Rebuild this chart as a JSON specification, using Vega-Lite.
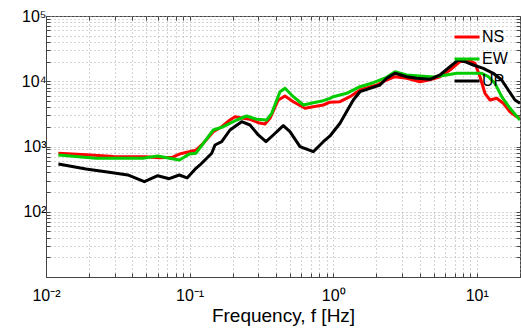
{
  "$schema": "https://vega.github.io/schema/vega-lite/v6.json",
  "width": 474,
  "height": 261,
  "autosize": "none",
  "padding": {"left": 46, "top": 16, "right": 1, "bottom": 53},
  "config": {
    "font": "Liberation Sans",
    "view": {"stroke": "#444", "strokeWidth": 1},
    "axis": {
      "domainColor": "#444",
      "tickColor": "#444",
      "labelColor": "#000",
      "labelFont": "Liberation Sans",
      "labelFontSize": 16,
      "labelOverlap": false,
      "labelFlush": false,
      "gridColor": "#a8a8a8",
      "gridDash": [1, 3],
      "gridOpacity": 1,
      "tickSize": -4
    }
  },
  "data": {
    "values": [
      {"f": 0.0122, "v": 787, "c": "NS"},
      {"f": 0.019, "v": 745, "c": "NS"},
      {"f": 0.0295, "v": 700, "c": "NS"},
      {"f": 0.0497, "v": 698, "c": "NS"},
      {"f": 0.0612, "v": 673, "c": "NS"},
      {"f": 0.0762, "v": 685, "c": "NS"},
      {"f": 0.0857, "v": 770, "c": "NS"},
      {"f": 0.0895, "v": 787, "c": "NS"},
      {"f": 0.1061, "v": 860, "c": "NS"},
      {"f": 0.1108, "v": 880, "c": "NS"},
      {"f": 0.1246, "v": 1119, "c": "NS"},
      {"f": 0.1462, "v": 1686, "c": "NS"},
      {"f": 0.1674, "v": 2011, "c": "NS"},
      {"f": 0.1911, "v": 2548, "c": "NS"},
      {"f": 0.2071, "v": 2862, "c": "NS"},
      {"f": 0.2366, "v": 2705, "c": "NS"},
      {"f": 0.2634, "v": 2612, "c": "NS"},
      {"f": 0.3009, "v": 2317, "c": "NS"},
      {"f": 0.335, "v": 2212, "c": "NS"},
      {"f": 0.363, "v": 2705, "c": "NS"},
      {"f": 0.4147, "v": 5160, "c": "NS"},
      {"f": 0.4616, "v": 5940, "c": "NS"},
      {"f": 0.5274, "v": 4861, "c": "NS"},
      {"f": 0.6363, "v": 3850, "c": "NS"},
      {"f": 0.7268, "v": 4074, "c": "NS"},
      {"f": 0.8533, "v": 4325, "c": "NS"},
      {"f": 0.95, "v": 4780, "c": "NS"},
      {"f": 1.1154, "v": 4861, "c": "NS"},
      {"f": 1.309, "v": 5798, "c": "NS"},
      {"f": 1.537, "v": 7340, "c": "NS"},
      {"f": 2.009, "v": 8760, "c": "NS"},
      {"f": 2.358, "v": 10450, "c": "NS"},
      {"f": 2.694, "v": 11740, "c": "NS"},
      {"f": 3.25, "v": 11100, "c": "NS"},
      {"f": 4.022, "v": 9840, "c": "NS"},
      {"f": 4.722, "v": 10500, "c": "NS"},
      {"f": 5.541, "v": 11740, "c": "NS"},
      {"f": 6.507, "v": 14870, "c": "NS"},
      {"f": 7.638, "v": 19940, "c": "NS"},
      {"f": 8.727, "v": 21170, "c": "NS"},
      {"f": 9.716, "v": 18840, "c": "NS"},
      {"f": 10.53, "v": 11740, "c": "NS"},
      {"f": 11.4, "v": 6537, "c": "NS"},
      {"f": 12.36, "v": 5160, "c": "NS"},
      {"f": 13.76, "v": 5480, "c": "NS"},
      {"f": 15.3, "v": 4593, "c": "NS"},
      {"f": 17.03, "v": 3414, "c": "NS"},
      {"f": 18.96, "v": 2862, "c": "NS"},
      {"f": 20, "v": 2705, "c": "NS"},

      {"f": 0.0122, "v": 741, "c": "EW"},
      {"f": 0.0223, "v": 660, "c": "EW"},
      {"f": 0.0471, "v": 660, "c": "EW"},
      {"f": 0.06, "v": 715, "c": "EW"},
      {"f": 0.0722, "v": 660, "c": "EW"},
      {"f": 0.085, "v": 620, "c": "EW"},
      {"f": 0.1, "v": 770, "c": "EW"},
      {"f": 0.1108, "v": 790, "c": "EW"},
      {"f": 0.1246, "v": 1119, "c": "EW"},
      {"f": 0.1462, "v": 1790, "c": "EW"},
      {"f": 0.1717, "v": 2011, "c": "EW"},
      {"f": 0.2128, "v": 2548, "c": "EW"},
      {"f": 0.2498, "v": 2934, "c": "EW"},
      {"f": 0.2933, "v": 2612, "c": "EW"},
      {"f": 0.3443, "v": 2548, "c": "EW"},
      {"f": 0.373, "v": 3228, "c": "EW"},
      {"f": 0.4261, "v": 6916, "c": "EW"},
      {"f": 0.4616, "v": 7798, "c": "EW"},
      {"f": 0.5274, "v": 5798, "c": "EW"},
      {"f": 0.6193, "v": 4325, "c": "EW"},
      {"f": 0.7268, "v": 4691, "c": "EW"},
      {"f": 0.8533, "v": 5035, "c": "EW"},
      {"f": 0.95, "v": 5480, "c": "EW"},
      {"f": 1.0016, "v": 5798, "c": "EW"},
      {"f": 1.2417, "v": 6537, "c": "EW"},
      {"f": 1.537, "v": 8251, "c": "EW"},
      {"f": 1.903, "v": 9502, "c": "EW"},
      {"f": 2.358, "v": 11490, "c": "EW"},
      {"f": 2.694, "v": 14010, "c": "EW"},
      {"f": 3.25, "v": 12470, "c": "EW"},
      {"f": 4.022, "v": 12040, "c": "EW"},
      {"f": 4.978, "v": 11600, "c": "EW"},
      {"f": 6.171, "v": 12470, "c": "EW"},
      {"f": 7.244, "v": 13240, "c": "EW"},
      {"f": 8.966, "v": 13240, "c": "EW"},
      {"f": 10.82, "v": 13240, "c": "EW"},
      {"f": 12.03, "v": 11740, "c": "EW"},
      {"f": 13.39, "v": 9303, "c": "EW"},
      {"f": 14.91, "v": 5798, "c": "EW"},
      {"f": 17.03, "v": 3850, "c": "EW"},
      {"f": 20, "v": 2548, "c": "EW"},

      {"f": 0.0122, "v": 540, "c": "UP"},
      {"f": 0.019, "v": 452, "c": "UP"},
      {"f": 0.0291, "v": 397, "c": "UP"},
      {"f": 0.0371, "v": 366, "c": "UP"},
      {"f": 0.0484, "v": 289, "c": "UP"},
      {"f": 0.06, "v": 357, "c": "UP"},
      {"f": 0.0722, "v": 321, "c": "UP"},
      {"f": 0.0847, "v": 366, "c": "UP"},
      {"f": 0.096, "v": 330, "c": "UP"},
      {"f": 0.1108, "v": 463, "c": "UP"},
      {"f": 0.1181, "v": 521, "c": "UP"},
      {"f": 0.1426, "v": 787, "c": "UP"},
      {"f": 0.1503, "v": 1054, "c": "UP"},
      {"f": 0.1674, "v": 1185, "c": "UP"},
      {"f": 0.1911, "v": 1790, "c": "UP"},
      {"f": 0.2306, "v": 2400, "c": "UP"},
      {"f": 0.2634, "v": 2135, "c": "UP"},
      {"f": 0.3009, "v": 1501, "c": "UP"},
      {"f": 0.3404, "v": 1185, "c": "UP"},
      {"f": 0.3828, "v": 1501, "c": "UP"},
      {"f": 0.4492, "v": 2084, "c": "UP"},
      {"f": 0.5001, "v": 1686, "c": "UP"},
      {"f": 0.5872, "v": 993, "c": "UP"},
      {"f": 0.7268, "v": 832, "c": "UP"},
      {"f": 0.8533, "v": 1185, "c": "UP"},
      {"f": 0.95, "v": 1450, "c": "UP"},
      {"f": 1.1154, "v": 2268, "c": "UP"},
      {"f": 1.38, "v": 5160, "c": "UP"},
      {"f": 1.537, "v": 6916, "c": "UP"},
      {"f": 1.804, "v": 7798, "c": "UP"},
      {"f": 2.118, "v": 8760, "c": "UP"},
      {"f": 2.358, "v": 11100, "c": "UP"},
      {"f": 2.694, "v": 13240, "c": "UP"},
      {"f": 3.25, "v": 11740, "c": "UP"},
      {"f": 3.815, "v": 11100, "c": "UP"},
      {"f": 4.722, "v": 10710, "c": "UP"},
      {"f": 5.541, "v": 12470, "c": "UP"},
      {"f": 6.507, "v": 16710, "c": "UP"},
      {"f": 7.433, "v": 21170, "c": "UP"},
      {"f": 8.277, "v": 19940, "c": "UP"},
      {"f": 9.454, "v": 17750, "c": "UP"},
      {"f": 11.1, "v": 15790, "c": "UP"},
      {"f": 13.03, "v": 13240, "c": "UP"},
      {"f": 14.91, "v": 10450, "c": "UP"},
      {"f": 16.57, "v": 7340, "c": "UP"},
      {"f": 18.45, "v": 5160, "c": "UP"},
      {"f": 20, "v": 4593, "c": "UP"}
    ]
  },
  "resolve": {"axis": {"x": "independent", "y": "independent"}},
  "layer": [
    {
      "mark": {"type": "line", "strokeWidth": 3, "strokeJoin": "round", "clip": true},
      "encoding": {
        "x": {
          "field": "f",
          "type": "quantitative",
          "scale": {"type": "log", "domain": [0.01, 20], "nice": false},
          "axis": {
            "orient": "bottom",
            "title": "Frequency, f [Hz]",
            "titleFont": "Liberation Sans",
            "titleFontSize": 19,
            "titleFontWeight": "normal",
            "titleColor": "#000",
            "titlePadding": 3,
            "labelPadding": 14,
            "values": [0.01, 0.02, 0.03, 0.04, 0.05, 0.06, 0.07, 0.08, 0.09, 0.1, 0.2, 0.3, 0.4, 0.5, 0.6, 0.7, 0.8, 0.9, 1, 2, 3, 4, 5, 6, 7, 8, 9, 10, 20],
            "labelExpr": "datum.value == 0.01 ? '10⁻²' : datum.value == 0.1 ? '10⁻¹' : datum.value == 1 ? '10⁰' : datum.value == 10 ? '10¹' : ''",
            "grid": true
          }
        },
        "y": {
          "field": "v",
          "type": "quantitative",
          "scale": {"type": "log", "domain": [10, 100000], "nice": false},
          "axis": {
            "orient": "left",
            "title": null,
            "labelPadding": 4,
            "values": [10, 20, 30, 40, 50, 60, 70, 80, 90, 100, 200, 300, 400, 500, 600, 700, 800, 900, 1000, 2000, 3000, 4000, 5000, 6000, 7000, 8000, 9000, 10000, 20000, 30000, 40000, 50000, 60000, 70000, 80000, 90000, 100000],
            "labelExpr": "datum.value == 100 ? '10²' : datum.value == 1000 ? '10³' : datum.value == 10000 ? '10⁴' : datum.value == 100000 ? '10⁵' : ''",
            "grid": true
          }
        },
        "color": {
          "field": "c",
          "type": "nominal",
          "sort": ["NS", "EW", "UP"],
          "scale": {"domain": ["NS", "EW", "UP"], "range": ["#ff0000", "#00cc00", "#000000"]},
          "legend": {
            "title": null,
            "orient": "none",
            "legendX": 407,
            "legendY": 7,
            "symbolType": "stroke",
            "symbolSize": 625,
            "symbolStrokeWidth": 3,
            "labelFontSize": 16,
            "labelColor": "#000",
            "labelOffset": 1,
            "rowPadding": 0
          }
        }
      }
    },
    {
      "mark": {"type": "point", "opacity": 0},
      "encoding": {
        "x": {
          "field": "f",
          "type": "quantitative",
          "scale": {"type": "log", "domain": [0.01, 20], "nice": false},
          "axis": {
            "orient": "top",
            "title": null,
            "labels": false,
            "grid": false,
            "domain": false,
            "values": [0.01, 0.02, 0.03, 0.04, 0.05, 0.06, 0.07, 0.08, 0.09, 0.1, 0.2, 0.3, 0.4, 0.5, 0.6, 0.7, 0.8, 0.9, 1, 2, 3, 4, 5, 6, 7, 8, 9, 10, 20]
          }
        },
        "y": {
          "field": "v",
          "type": "quantitative",
          "scale": {"type": "log", "domain": [10, 100000], "nice": false},
          "axis": {
            "orient": "right",
            "title": null,
            "labels": false,
            "grid": false,
            "domain": false,
            "values": [10, 20, 30, 40, 50, 60, 70, 80, 90, 100, 200, 300, 400, 500, 600, 700, 800, 900, 1000, 2000, 3000, 4000, 5000, 6000, 7000, 8000, 9000, 10000, 20000, 30000, 40000, 50000, 60000, 70000, 80000, 90000, 100000]
          }
        }
      }
    }
  ]
}
